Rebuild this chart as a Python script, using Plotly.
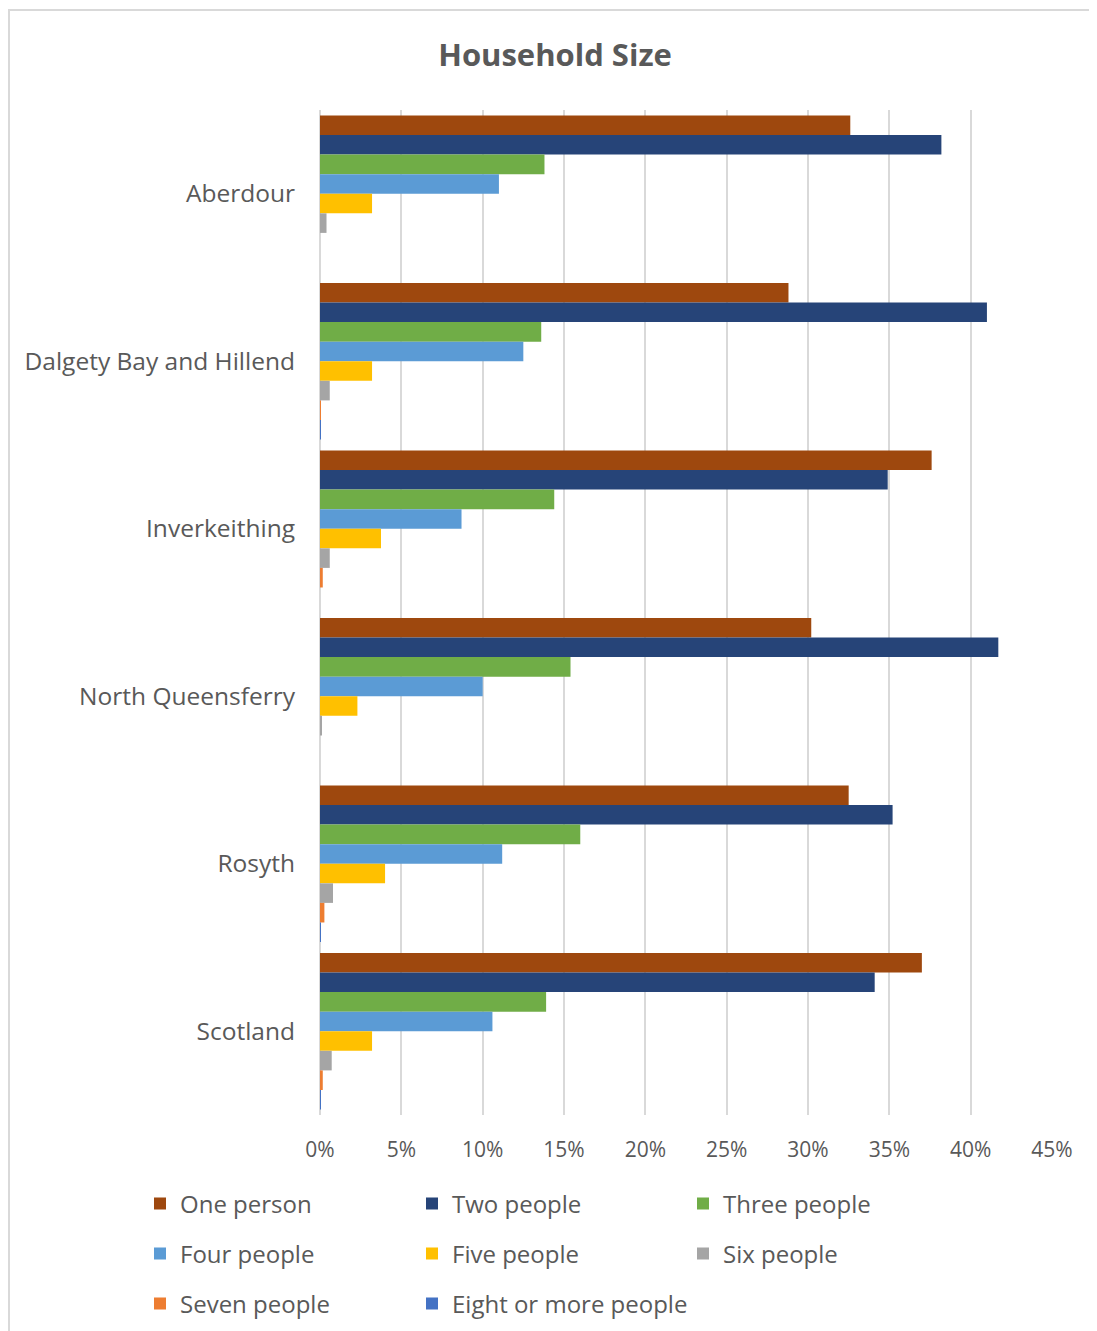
import plotly.graph_objects as go

places = ["Aberdour", "Dalgety Bay and Hillend", "Inverkeithing",
          "North Queensferry", "Rosyth", "Scotland"]

one_person = [32.6, 28.8, 37.6, 30.2, 32.5, 37.0]
two_people = [38.2, 41.0, 34.9, 41.7, 35.2, 34.1]
three_people = [13.8, 13.6, 14.4, 15.4, 16.0, 13.9]
four_people = [11.0, 12.5, 8.7, 10.0, 11.2, 10.6]
five_people = [3.2, 3.2, 3.75, 2.3, 4.0, 3.2]
six_people = [0.4, 0.6, 0.6, 0.1, 0.8, 0.72]
seven_people = [0.0, 0.02, 0.17, 0.0, 0.27, 0.17]
eight_people = [0.0, 0.05, 0.0, 0.0, 0.05, 0.05]

series = [
    ("One person", one_person, "#9E480E"),
    ("Two people", two_people, "#264478"),
    ("Three people", three_people, "#70AD47"),
    ("Four people", four_people, "#5B9BD5"),
    ("Five people", five_people, "#FFC000"),
    ("Six people", six_people, "#A5A5A5"),
    ("Seven people", seven_people, "#ED7D31"),
    ("Eight or more people", eight_people, "#4472C4"),
]

FONT = "Open Sans, sans-serif"
GREY = "#595959"
# the page body adds an 8px margin, so the figure is drawn 8px smaller
W, H = 1089, 1323
L, R, T, B = 312, 45, 102, 216
PW, PH = W - L - R, H - T - B

# legend grid: 3 columns, 50px rows (figure pixels)
COL_X = [132, 404, 675]
ROW_Y = [1196, 1246, 1296]

fig = go.Figure()
legends = {}
for i, (name, vals, color) in enumerate(series):
    key = "legend" if i == 0 else f"legend{i + 1}"
    fig.add_trace(go.Bar(
        y=places, x=vals, name=name, orientation="h",
        marker=dict(color=color, line=dict(width=0)),
        legend=key, showlegend=True,
    ))
    legends[key] = dict(
        orientation="h", xref="container", yref="container",
        x=COL_X[i % 3] / W, xanchor="left",
        y=1 - ROW_Y[i // 3] / H, yanchor="middle",
        font=dict(family=FONT, size=24, color=GREY),
        bgcolor="rgba(0,0,0,0)",
    )

fig.update_layout(
    width=W, height=H, showlegend=True,
    barmode="group", bargap=0.065, bargroupgap=0,
    title=dict(text="<b>Household Size</b>", x=547 / W, xanchor="center",
               y=1 - 47 / H, yanchor="middle",
               font=dict(family=FONT, size=31, color=GREY)),
    xaxis=dict(range=[0, 45], dtick=5, ticksuffix="%", automargin=False,
               showgrid=True, gridcolor="#D9D9D9", gridwidth=2,
               zeroline=True, zerolinecolor="#D9D9D9", zerolinewidth=2,
               tickfont=dict(family=FONT, size=21, color=GREY),
               ticks="", ticklabelstandoff=20),
    yaxis=dict(autorange="reversed", showgrid=False, ticks="", automargin=False,
               tickfont=dict(family=FONT, size=24.5, color=GREY),
               ticklabelstandoff=24),
    margin=dict(l=L, r=R, t=T, b=B, autoexpand=False),
    paper_bgcolor="white", plot_bgcolor="white",
    **legends,
)

# outer chart border
fig.add_shape(type="rect", xref="paper", yref="paper",
              x0=(1 - L) / PW, x1=(W + 5 - L) / PW,
              y0=(H - B - H - 5) / PH, y1=(H - B - 2) / PH,
              line=dict(color="#D9D9D9", width=2), layer="below")

fig.write_html("out.html")
